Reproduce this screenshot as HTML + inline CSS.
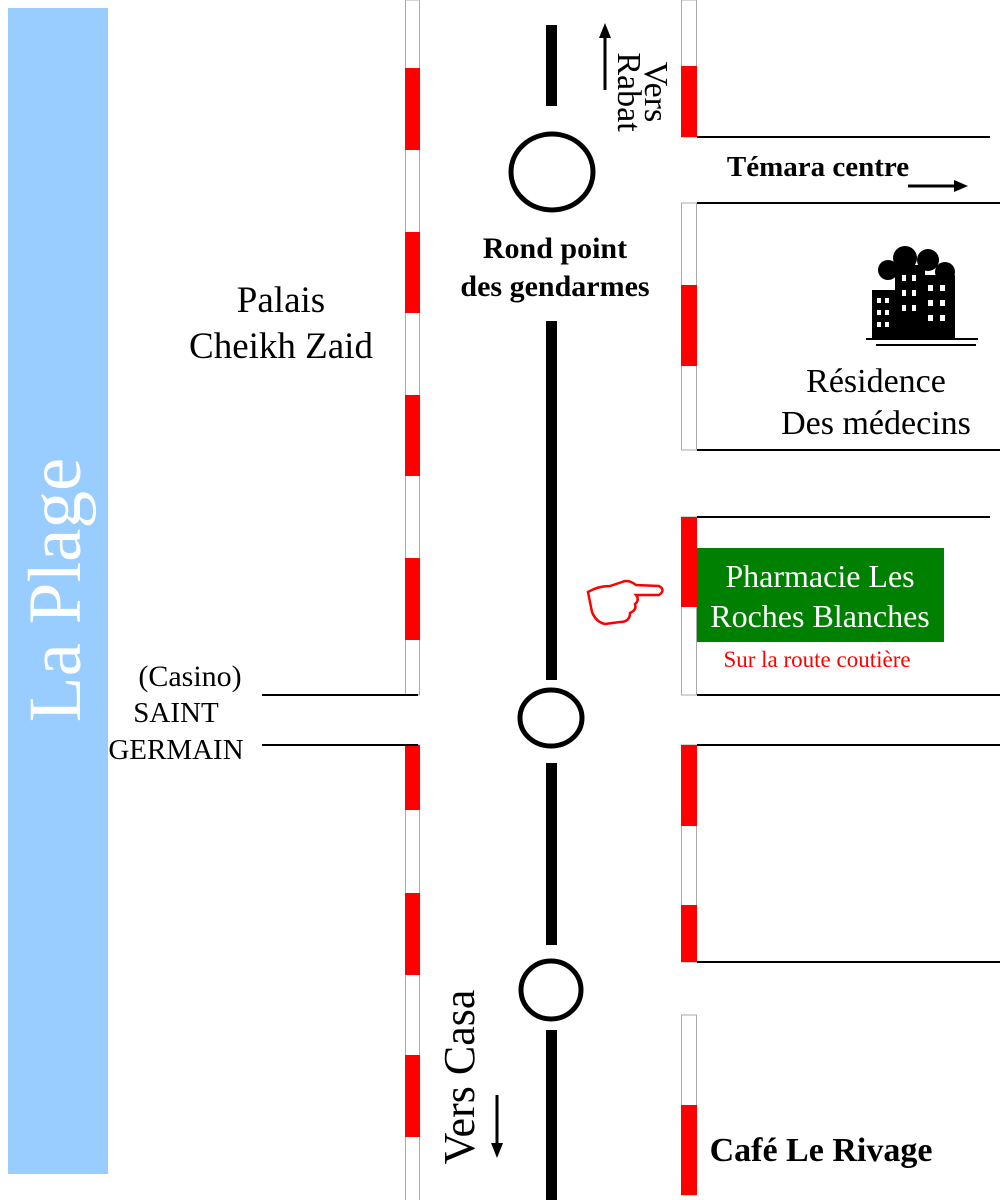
<!DOCTYPE html>
<html><head><meta charset="utf-8"><style>
body{margin:0;width:1000px;height:1200px;background:#fff;overflow:hidden}
svg{position:absolute;left:0;top:0}
text{font-family:"Liberation Serif",serif}
</style></head><body>
<svg width="1000" height="1200" viewBox="0 0 1000 1200">
<rect x="8" y="8" width="100" height="1166" fill="#99ccff"/>
<text transform="translate(80,590) rotate(-90)" text-anchor="middle" font-size="75" fill="#fff">La Plage</text>
<g stroke="#aaa" stroke-width="1">
<rect x="405.5" y="0" width="14" height="695" fill="#fff"/>
<rect x="405.5" y="745" width="14" height="460" fill="#fff"/>
<rect x="681.5" y="0" width="15" height="137" fill="#fff"/>
<rect x="681.5" y="203" width="15" height="247" fill="#fff"/>
<rect x="681.5" y="517" width="15" height="178" fill="#fff"/>
<rect x="681.5" y="745" width="15" height="217" fill="#fff"/>
<rect x="681.5" y="1015" width="15" height="180" fill="#fff"/>
</g>
<g fill="#f00">
<rect x="405" y="68" width="15" height="82"/><rect x="405" y="232" width="15" height="81"/>
<rect x="405" y="395" width="15" height="81"/><rect x="405" y="558" width="15" height="82"/>
<rect x="405" y="745" width="15" height="65"/><rect x="405" y="893" width="15" height="82"/>
<rect x="405" y="1055" width="15" height="82"/>
<rect x="681" y="66" width="16" height="71"/><rect x="681" y="285" width="16" height="81"/>
<rect x="681" y="517" width="16" height="90"/><rect x="681" y="745" width="16" height="81"/>
<rect x="681" y="905" width="16" height="57"/><rect x="681" y="1105" width="16" height="90"/>
</g>
<g stroke="#000" stroke-width="2">
<line x1="697" y1="137" x2="990" y2="137"/><line x1="697" y1="203" x2="1000" y2="203"/>
<line x1="697" y1="450" x2="1000" y2="450"/><line x1="697" y1="517" x2="990" y2="517"/>
<line x1="697" y1="695" x2="1000" y2="695"/><line x1="697" y1="745" x2="1000" y2="745"/>
<line x1="697" y1="962" x2="1000" y2="962"/>
<line x1="262" y1="695" x2="418" y2="695"/><line x1="262" y1="745" x2="418" y2="745"/>
</g>
<g fill="#000">
<rect x="546" y="25" width="11" height="81"/><rect x="546" y="321" width="11" height="359"/>
<rect x="546" y="763" width="11" height="182"/><rect x="546" y="1030" width="11" height="170"/>
</g>
<g fill="none" stroke="#000" stroke-width="5">
<ellipse cx="552" cy="172" rx="41" ry="38"/>
<ellipse cx="551" cy="718" rx="31" ry="28"/>
<ellipse cx="551" cy="990" rx="30" ry="29"/>
</g>
<line x1="605" y1="90" x2="605" y2="38" stroke="#000" stroke-width="3"/>
<polygon points="605,23 599,38 611,38" fill="#000"/>
<text transform="translate(645,92) rotate(90)" text-anchor="middle" font-size="34">Vers</text>
<text transform="translate(618,92) rotate(90)" text-anchor="middle" font-size="34">Rabat</text>
<line x1="908" y1="186" x2="956" y2="186" stroke="#000" stroke-width="3"/>
<polygon points="968,186 954,180 954,192" fill="#000"/>
<text x="818" y="176" text-anchor="middle" font-size="29" font-weight="bold">Témara centre</text>
<text x="555" y="258" text-anchor="middle" font-size="30" font-weight="bold">Rond point</text>
<text x="555" y="296" text-anchor="middle" font-size="30" font-weight="bold">des gendarmes</text>
<text x="281" y="312" text-anchor="middle" font-size="37">Palais</text>
<text x="281" y="358" text-anchor="middle" font-size="37">Cheikh Zaid</text>
<text x="876" y="392" text-anchor="middle" font-size="34">Résidence</text>
<text x="876" y="434" text-anchor="middle" font-size="34">Des médecins</text>
<g fill="#000">
<rect x="872" y="290" width="28" height="48"/><rect x="895" y="265" width="30" height="73"/>
<rect x="920" y="275" width="35" height="63"/>
<circle cx="888" cy="270" r="10"/><circle cx="905" cy="258" r="12"/><circle cx="928" cy="260" r="11"/><circle cx="945" cy="272" r="10"/>
<rect x="866" y="338" width="112" height="2"/><rect x="876" y="344" width="100" height="2"/>
</g>
<g fill="#fff">
<rect x="877" y="298" width="4" height="5"/><rect x="885" y="298" width="4" height="5"/><rect x="877" y="310" width="4" height="5"/><rect x="885" y="310" width="4" height="5"/><rect x="877" y="322" width="4" height="5"/><rect x="885" y="322" width="4" height="5"/>
<rect x="902" y="275" width="4" height="6"/><rect x="912" y="275" width="4" height="6"/><rect x="902" y="290" width="4" height="6"/><rect x="912" y="290" width="4" height="6"/><rect x="902" y="305" width="4" height="6"/><rect x="912" y="305" width="4" height="6"/>
<rect x="928" y="285" width="5" height="6"/><rect x="940" y="285" width="5" height="6"/><rect x="928" y="300" width="5" height="6"/><rect x="940" y="300" width="5" height="6"/><rect x="928" y="315" width="5" height="6"/><rect x="940" y="315" width="5" height="6"/>
</g>
<rect x="697" y="548" width="247" height="94" fill="#008000"/>
<text x="820" y="587" text-anchor="middle" font-size="32" fill="#fff">Pharmacie Les</text>
<text x="820" y="627" text-anchor="middle" font-size="32" fill="#fff">Roches Blanches</text>
<text x="817" y="667" text-anchor="middle" font-size="23" fill="#f00">Sur la route coutière</text>
<path d="M588,592 Q598,586 610,586 L622,582 Q628,579 636,585 L659,586 Q666,590 659,595 L636,595 Q640,600 635,604 Q637,610 630,613 Q630,622 620,622 L605,624 Q596,622 592,612 Z" fill="none" stroke="#f00" stroke-width="2.5"/>
<text x="190" y="686" text-anchor="middle" font-size="30">(Casino)</text>
<text x="176" y="722" text-anchor="middle" font-size="29">SAINT</text>
<text x="176" y="759" text-anchor="middle" font-size="29">GERMAIN</text>
<text transform="translate(474,1077) rotate(-90)" text-anchor="middle" font-size="44">Vers Casa</text>
<line x1="497" y1="1095" x2="497" y2="1145" stroke="#000" stroke-width="3"/>
<polygon points="497,1158 491,1143 503,1143" fill="#000"/>
<text x="821" y="1161" text-anchor="middle" font-size="34" font-weight="bold">Café Le Rivage</text>
</svg>
</body></html>
